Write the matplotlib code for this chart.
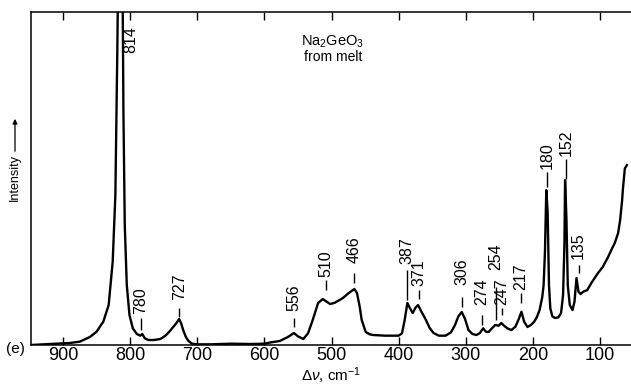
import matplotlib
matplotlib.use("Agg")
import matplotlib.pyplot as plt

plt.rcParams['font.family'] = ['Liberation Sans', 'DejaVu Sans']
plt.rcParams['mathtext.fontset'] = 'custom'
plt.rcParams['mathtext.rm'] = 'Liberation Sans'
plt.rcParams['mathtext.it'] = 'Liberation Sans:italic'

# Raman spectrum of Na2GeO3 glass
wavenumber = [948, 930, 910, 890, 875, 860, 850, 840, 832, 826, 822, 819, 816, 814,
              812, 810, 808, 805, 801, 796, 790, 785, 782, 778, 773, 765, 755, 748,
              742, 736, 731, 727, 724, 721, 717, 713, 708, 700, 680, 650, 620, 600,
              590, 577, 565, 556, 550, 542, 535, 528, 520, 513, 507, 502, 495, 483,
              475, 466, 462, 458, 455, 449, 443, 438, 420, 400, 395, 391, 387, 383,
              379, 375, 371, 366, 360, 354, 348, 340, 330, 322, 316, 311, 306, 301,
              296, 290, 284, 279, 274, 270, 266, 261, 256, 251, 247, 243, 238, 232,
              226, 221, 217, 213, 208, 203, 198, 194, 190, 186, 184, 182, 180, 178,
              176, 174, 171, 167, 162, 158, 155, 153, 152, 150, 148, 145, 141, 138,
              135, 132, 129, 125, 119, 112, 103, 96, 88, 82, 78, 73, 70, 67, 66, 63, 60]
intensity = [0.0, 0.2, 0.4, 0.6, 1.0, 2.4, 4.0, 7.0, 12.0, 25, 45, 90, 150, 170,
             130, 70, 36, 18, 9, 5, 3.3, 2.8, 3.3, 2.0, 1.5, 1.5, 1.8, 2.7,
             3.9, 5.4, 6.6, 7.8, 6.5, 4.5, 2.4, 1.2, 0.4, 0.2, 0.2, 0.4, 0.3, 0.4,
             0.8, 1.2, 2.4, 3.6, 2.6, 1.8, 3.5, 7.5, 12.6, 13.8, 13.0, 12.3, 12.7, 14.1,
             15.5, 16.8, 15.6, 11.5, 7.5, 3.9, 3.2, 3.0, 2.8, 2.8, 3.5, 7.5, 12.6, 11.0,
             9.6, 11.2, 12.0, 10.0, 7.8, 5.2, 3.6, 2.8, 2.8, 3.8, 6.0, 8.6, 9.9, 7.8,
             4.5, 3.3, 3.0, 3.6, 5.0, 4.0, 3.9, 5.0, 6.0, 5.8, 6.6, 5.8, 5.0, 4.5,
             5.5, 7.8, 10.0, 7.0, 5.4, 6.0, 7.0, 8.4, 10.5, 14.4, 18, 28, 46.5, 40,
             18, 11, 8.6, 8.1, 8.3, 9.6, 15, 30, 49.5, 38, 18, 12, 10.5, 13,
             20.1, 16, 15.3, 16, 16.5, 18.9, 21.6, 23.4, 26.4, 29, 30.6, 33.6, 37.5, 43.5,
             46.5, 53, 54]

# peak labels: position, tick dash (low, high), label centre height
peak_labels = ["780", "727", "556", "510", "466", "387", "371", "306",
               "274", "254", "247", "217", "180", "152", "135"]
label_x = [784, 727, 556, 508, 466, 387, 369, 305, 276, 255, 246, 218, 179, 151, 132]
dash_lo = [4.5, 8.4, 5.4, 16.5, 18.6, 13.5, 13.8, 11.4, 6.0, 7.5, 9.0, 12.6, 47.4, 50.0, 21.6]
dash_hi = [8.1, 11.1, 8.1, 19.5, 21.6, 22.5, 16.5, 14.4, 9.0, 17.5, 11.0, 15.6, 52.0, 56.0, 24.0]
label_y = [13.2, 17.4, 14.1, 24.5, 28.5, 28.2, 21.6, 21.9, 15.9, 26.5, 16.0, 20.4, 57.0, 60.7, 29.7]

xticks = [900, 800, 700, 600, 500, 400, 300, 200, 100]

fig = plt.figure(figsize=(6.31, 3.86), dpi=100)
ax = fig.add_axes([31 / 631, 1 - 345 / 386, 1 - 31 / 631, (345 - 12) / 386])

ax.plot(wavenumber, intensity, color='black', lw=1.7, solid_joinstyle='round')

ax.set_xlim(947.7, 53.8)
ax.set_ylim(0, 100)
ax.set_xticks(xticks)
ax.set_yticks([])
ax.tick_params(axis='x', direction='in', top=True, bottom=True, length=6,
               width=1.0, labelsize=13, pad=1.5)
for side in ['left', 'bottom', 'top']:
    ax.spines[side].set_linewidth(1.1)
ax.spines['right'].set_visible(False)

# peak annotations
ax.vlines(label_x, dash_lo, dash_hi, color='black', lw=1.0)
for lab, x, y in zip(peak_labels, label_x, label_y):
    ax.text(x, y, lab, rotation=90, ha='center', va='center', fontsize=11.5)
ax.text(799, 91.6, "814", rotation=90, ha='center', va='center', fontsize=11.5)

# sample name
fig.text(333 / 631, 1 - 42 / 386, r"Na$_2$GeO$_3$", ha='center', va='center', fontsize=10.5)
fig.text(333 / 631, 1 - 57 / 386, "from melt", ha='center', va='center', fontsize=10)

# axis labels
fig.text(331 / 631, 1 - 376 / 386, r"Δ$\it{\nu}$, cm$^{-1}$", ha='center', va='center', fontsize=11)
fig.text(15 / 631, 1 - 177 / 386, "Intensity", rotation=90, ha='center', va='center', fontsize=9)
fig.add_artist(matplotlib.patches.FancyArrowPatch(
    (15 / 631, 1 - 154 / 386), (15 / 631, 1 - 116 / 386),
    transform=fig.transFigure, arrowstyle='-|>', mutation_scale=7, lw=0.9, color='black'))
fig.text(15 / 631, 1 - 349 / 386, "(e)", ha='center', va='center', fontsize=11)

fig.savefig("out.png", dpi=100)
